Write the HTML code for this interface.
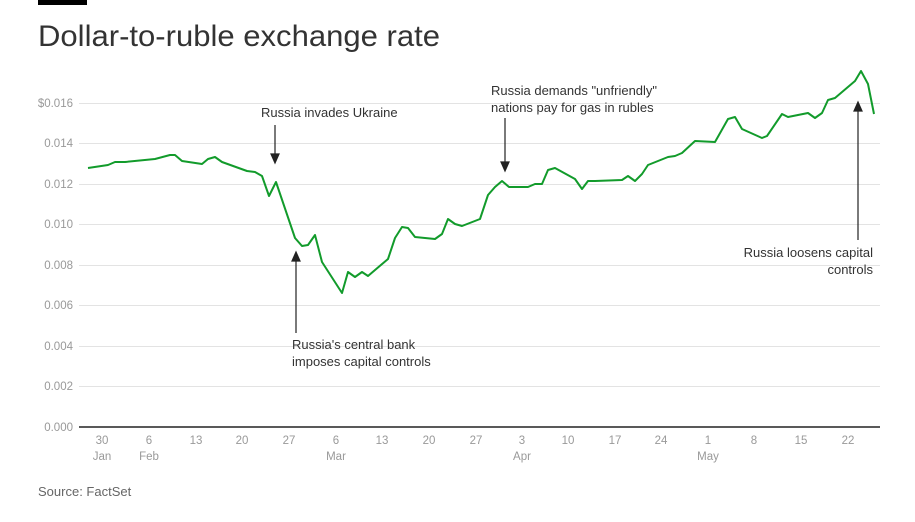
<!DOCTYPE html>
<html><head><meta charset="utf-8"><style>
html,body{margin:0;padding:0;background:#fff;width:915px;height:522px;overflow:hidden}
svg{display:block}
text{font-family:"Liberation Sans",sans-serif}
</style></head><body>
<svg width="915" height="522" viewBox="0 0 915 522">
<rect x="38" y="0" width="49" height="5" fill="#000"/>
<text x="38" y="46" font-size="30" fill="#333" textLength="402" lengthAdjust="spacingAndGlyphs">Dollar-to-ruble exchange rate</text>
<g stroke="#e3e3e3" stroke-width="1">
<line x1="79" x2="880" y1="103.5" y2="103.5"/>
<line x1="79" x2="880" y1="143.5" y2="143.5"/>
<line x1="79" x2="880" y1="184.5" y2="184.5"/>
<line x1="79" x2="880" y1="224.5" y2="224.5"/>
<line x1="79" x2="880" y1="265.5" y2="265.5"/>
<line x1="79" x2="880" y1="305.5" y2="305.5"/>
<line x1="79" x2="880" y1="346.5" y2="346.5"/>
<line x1="79" x2="880" y1="386.5" y2="386.5"/>
</g>
<line x1="79" x2="880" y1="427" y2="427" stroke="#222" stroke-width="1.5"/>
<g font-size="11.5" fill="#999" text-anchor="end">
<text x="73" y="107">$0.016</text>
<text x="73" y="147">0.014</text>
<text x="73" y="188">0.012</text>
<text x="73" y="228">0.010</text>
<text x="73" y="269">0.008</text>
<text x="73" y="309">0.006</text>
<text x="73" y="350">0.004</text>
<text x="73" y="390">0.002</text>
<text x="73" y="431">0.000</text>
</g>
<g font-size="11.5" fill="#999" text-anchor="middle">
<text x="102" y="444">30</text><text x="102" y="460">Jan</text>
<text x="149" y="444">6</text><text x="149" y="460">Feb</text>
<text x="196" y="444">13</text>
<text x="242" y="444">20</text>
<text x="289" y="444">27</text>
<text x="336" y="444">6</text><text x="336" y="460">Mar</text>
<text x="382" y="444">13</text>
<text x="429" y="444">20</text>
<text x="476" y="444">27</text>
<text x="522" y="444">3</text><text x="522" y="460">Apr</text>
<text x="568" y="444">10</text>
<text x="615" y="444">17</text>
<text x="661" y="444">24</text>
<text x="708" y="444">1</text><text x="708" y="460">May</text>
<text x="754" y="444">8</text>
<text x="801" y="444">15</text>
<text x="848" y="444">22</text>
</g>
<polyline fill="none" stroke="#129b2b" stroke-width="2" stroke-linejoin="round" points="88,168 108,165 115,162 125,162 155,159 170,155 175,155 182,161 202,164 208,159 215,157 222,162 247,171 255,172 262,176 269,196 276,182 295,238 302,246 308,245 315,235 322,262 342,293 348,272 355,277 362,272 368,276 388,259 395,238 402,227 408,228 415,237 435,239 442,234 448,219 455,224 462,226 480,219 483,210 488,195 495,187 502,181 509,187 528,187 535,184 542,184 548,170 555,168 575,179 582,189 588,181 595,181 622,180 628,176 635,181 642,174 648,165 668,157 675,156 682,153 695,141 715,142 728,119 735,117 742,129 762,138 767,136 782,114 788,117 808,113 815,118 822,113 828,100 835,98 855,81 861,71 868,84 874,114"/>
<g stroke="#222" stroke-width="1.2" fill="#222">
<line x1="275" y1="125" x2="275" y2="155"/><polygon points="271,154 279,154 275,163"/>
<line x1="296" y1="333" x2="296" y2="260"/><polygon points="292,261 300,261 296,252"/>
<line x1="505" y1="118" x2="505" y2="163"/><polygon points="501,162 509,162 505,171"/>
<line x1="858" y1="240" x2="858" y2="110"/><polygon points="854,111 862,111 858,102"/>
</g>
<g font-size="13" fill="#333">
<text x="261" y="117">Russia invades Ukraine</text>
<text x="292" y="349">Russia's central bank</text>
<text x="292" y="366">imposes capital controls</text>
<text x="491" y="95">Russia demands "unfriendly"</text>
<text x="491" y="112">nations pay for gas in rubles</text>
<text x="873" y="257" text-anchor="end">Russia loosens capital</text>
<text x="873" y="274" text-anchor="end">controls</text>
</g>
<text x="38" y="496" font-size="13" fill="#666">Source: FactSet</text>
</svg>
</body></html>
